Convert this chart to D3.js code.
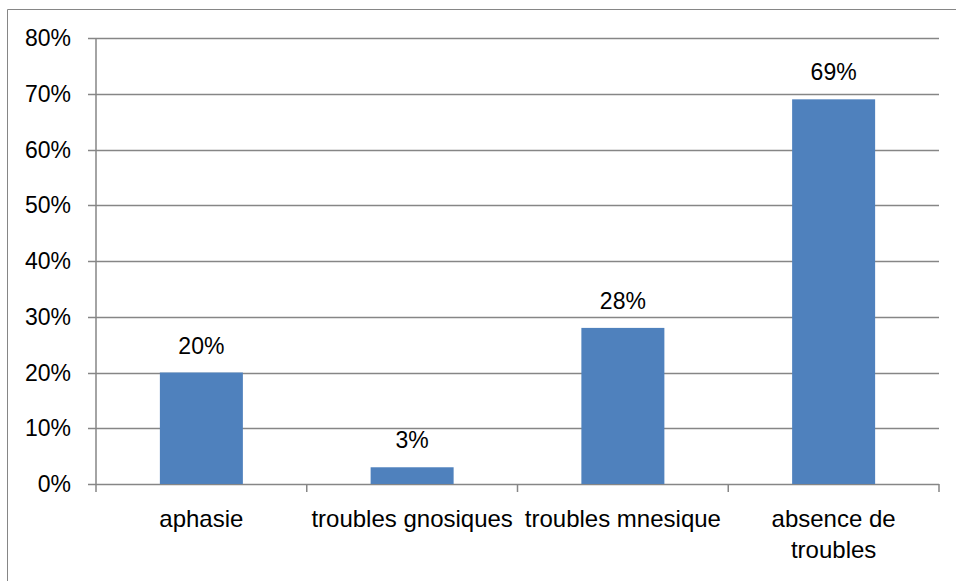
<!DOCTYPE html>
<html lang="fr">
<head>
<meta charset="utf-8">
<title>Troubles</title>
<script src="https://cdn.jsdelivr.net/npm/d3@7"></script>
<style>
  body { margin: 0; background: #fff; }
  svg text { font-family: "Liberation Sans", Arial, sans-serif; fill: #000; }
</style>
</head>
<body>
<div id="chart"></div>
<script>
// data
const categories = ["aphasie", "troubles gnosiques", "troubles mnesique", "absence de troubles"]
const values = [0.20, 0.03, 0.28, 0.69]
const yTicks = [0, 0.1, 0.2, 0.3, 0.4, 0.5, 0.6, 0.7, 0.8]

const width = 956
const height = 581
const plotLeft = 96, plotRight = 939, plotTop = 38, plotBottom = 484

const svg = d3.select("#chart").append("svg")
  .attr("width", width)
  .attr("height", height)

// outer chart frame (cut off at right/bottom as in the original)
svg.append("path")
  .attr("d", "M7.5," + height + "V9.5H" + width)
  .attr("fill", "none")
  .attr("stroke", "#868686")
  .attr("stroke-width", 1)

const x = d3.scaleBand().domain(categories).range([plotLeft, plotRight]).padding(0)
const y = d3.scaleLinear().domain([0, 0.8]).range([plotBottom, plotTop])

// gridlines
svg.append("g")
  .selectAll("line")
  .data(yTicks)
  .enter()
  .append("line")
    .attr("x1", plotLeft - 8)
    .attr("x2", plotRight)
    .attr("y1", d => Math.round(y(d)) + 0.5)
    .attr("y2", d => Math.round(y(d)) + 0.5)
    .attr("stroke", "#868686")
    .attr("stroke-width", 1.5)

// y labels
svg.append("g")
  .selectAll("text")
  .data(yTicks)
  .enter()
  .append("text")
    .attr("x", 71)
    .attr("y", d => y(d))
    .attr("dy", "0.35em")
    .attr("text-anchor", "end")
    .attr("font-size", 23)
    .text(d => d3.format(".0%")(d))

// y axis line
svg.append("line")
  .attr("x1", plotLeft).attr("x2", plotLeft)
  .attr("y1", plotTop).attr("y2", plotBottom)
  .attr("stroke", "#868686")
  .attr("stroke-width", 1.5)

// x ticks at band edges
const edges = categories.map(c => x(c)).concat([plotRight])
svg.append("g")
  .selectAll("line")
  .data(edges)
  .enter()
  .append("line")
    .attr("x1", d => d).attr("x2", d => d)
    .attr("y1", plotBottom).attr("y2", plotBottom + 8)
    .attr("stroke", "#868686")
    .attr("stroke-width", 1.5)

// bars
const barW = 83
svg.append("g")
  .selectAll("rect")
  .data(values)
  .enter()
  .append("rect")
    .attr("x", (d, i) => x(categories[i]) + x.bandwidth() / 2 - barW / 2)
    .attr("y", d => y(d))
    .attr("width", barW)
    .attr("height", d => y(0) - y(d))
    .attr("fill", "#4F81BD")

// value labels
svg.append("g")
  .selectAll("text")
  .data(values)
  .enter()
  .append("text")
    .attr("x", (d, i) => x(categories[i]) + x.bandwidth() / 2)
    .attr("y", d => y(d) - 19)
    .attr("text-anchor", "middle")
    .attr("font-size", 23)
    .text(d => d3.format(".0%")(d))

// category labels (wrap the long one onto two lines)
const wrap = { "absence de troubles": ["absence de", "troubles"] }
const catText = svg.append("g")
  .selectAll("text")
  .data(categories)
  .enter()
  .append("text")
    .attr("x", d => x(d) + x.bandwidth() / 2)
    .attr("y", 527)
    .attr("text-anchor", "middle")
    .attr("font-size", 24)

catText.each(function(d) {
  const lines = wrap[d] || [d]
  const t = d3.select(this)
  lines.forEach((l, i) => {
    t.append("tspan")
      .attr("x", x(d) + x.bandwidth() / 2)
      .attr("dy", i == 0 ? 0 : 31)
      .text(l)
  })
})
</script>
</body>
</html>
